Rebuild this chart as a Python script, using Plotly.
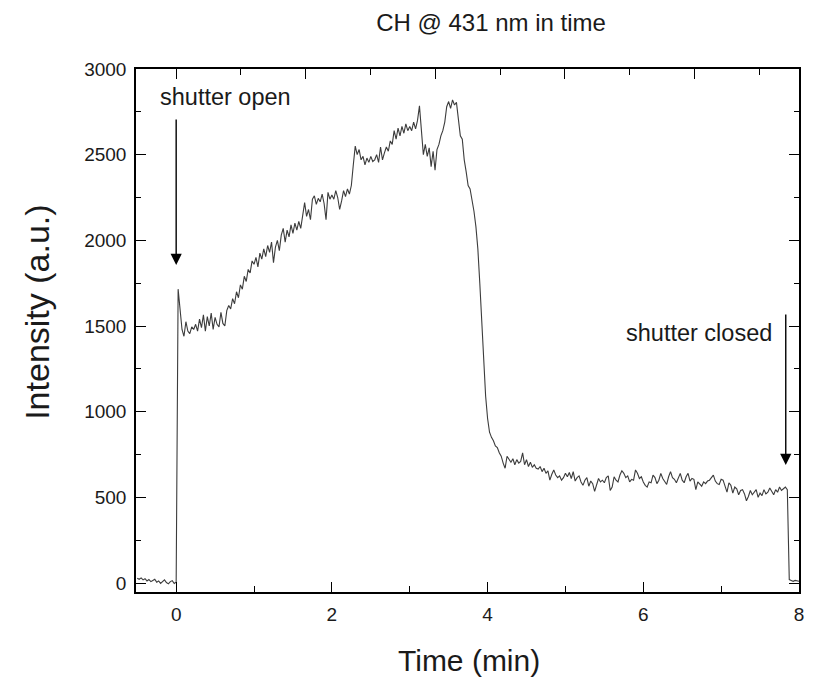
import numpy as np
import plotly.graph_objects as go

# Sampling grid (minutes), 0.025 min steps from -0.5 to 8.0
t_start, t_step, t_end = -0.5, 0.025, 8.0
time_min = np.round(np.arange(t_start, t_end + t_step / 2, t_step), 3)

# Intensity readings (a.u.) per chunk
i_pre = [28, 22, 30, 18, 25, 12, 20, 8, 15, 22, 5, 12, -2, 10, 18, 3, -5, 8, 14, -3, 5]  # -0.5 .. 0.0
i_0_1 = [1715, 1600, 1480, 1440, 1525, 1470, 1455, 1495, 1480, 1510,
         1470, 1540, 1490, 1565, 1470, 1555, 1500, 1575, 1480, 1550,
         1510, 1495, 1580, 1515, 1500, 1590, 1620, 1600, 1660, 1630,
         1700, 1665, 1740, 1715, 1790, 1760, 1830, 1810, 1880, 1860]
i_1_2 = [1900, 1845, 1925, 1890, 1950, 1905, 1970, 1930, 1990, 1870,
         1960, 2000, 1940, 2030, 2070, 1990, 2060, 2020, 2090, 2040,
         2100, 2060, 2110, 2070, 2150, 2220, 2140, 2180, 2120, 2240,
         2260, 2210, 2245, 2225, 2270, 2215, 2120, 2280, 2240, 2265]
i_2_3 = [2240, 2290, 2250, 2180, 2230, 2290, 2255, 2300, 2270, 2320,
         2440, 2550, 2500, 2530, 2470, 2490, 2440, 2480, 2455, 2490,
         2460, 2470, 2500, 2455, 2545, 2470, 2510, 2545, 2520, 2580,
         2560, 2640, 2590, 2655, 2610, 2665, 2625, 2680, 2640, 2665]
i_3_4 = [2640, 2690, 2650, 2700, 2785, 2620, 2500, 2560, 2490, 2540,
         2430, 2520, 2410, 2530, 2560, 2610, 2640, 2690, 2780, 2810,
         2770, 2820, 2790, 2805, 2720, 2610, 2590, 2470, 2400, 2320,
         2300, 2240, 2170, 2080, 1950, 1750, 1530, 1290, 1090, 960]
i_4_5 = [880, 850, 830, 800, 790, 760, 740, 700, 670, 740,
         720, 705, 725, 690, 720, 700, 710, 760, 690, 720,
         680, 705, 675, 690, 670, 665, 680, 650, 670, 640,
         655, 600, 635, 660, 630, 615, 625, 600, 615, 640]
i_5_6 = [620, 645, 610, 650, 595, 615, 625, 590, 570, 600,
         615, 565, 595, 580, 535, 570, 610, 590, 600, 585,
         615, 625, 540, 560, 620, 600, 590, 630, 655, 640,
         615, 625, 590, 605, 600, 660, 640, 610, 620, 590]
i_6_7 = [570, 560, 590, 585, 630, 615, 580, 600, 640, 610,
         590, 575, 620, 650, 615, 605, 585, 610, 640, 600,
         585, 620, 640, 595, 610, 605, 545, 590, 575, 565,
         590, 580, 595, 600, 615, 630, 595, 580, 575, 605]
i_7_8 = [600, 560, 530, 585, 570, 525, 560, 550, 515, 540,
         545, 520, 480, 505, 540, 515, 530, 545, 500, 525,
         510, 545, 520, 530, 555, 535, 515, 545, 530, 560,
         540, 550, 560, 545, 20, 15, 10, 15, 12, 10]

intensity = i_pre + i_0_1 + i_1_2 + i_2_3 + i_3_4 + i_4_5 + i_5_6 + i_6_7 + i_7_8

# Axis ranges / ticks
x_range = [-0.516, 8.0]
y_range = [-52.5, 3000]
top_major_step = 1.664
top_minor_step = 0.832

title_text = "CH @ 431 nm in time"
x_title = "Time (min)"
y_title = "Intensity (a.u.)"
open_label = "shutter open"
closed_label = "shutter closed"
open_arrow = dict(x=0.0, tail=2714, head=1856)
closed_arrow = dict(x=7.83, tail=1576, head=689)

FONT = "Liberation Sans, Arial, sans-serif"
TXT = "#1a1a1a"

fig = go.Figure()
fig.add_trace(go.Scatter(
    x=time_min, y=intensity, mode="lines",
    line=dict(color="#3c3c3c", width=1.1),
    showlegend=False, hoverinfo="x+y",
))
# invisible helper so the top axis gets drawn
fig.add_trace(go.Scatter(
    x=[time_min[0]], y=[intensity[0]], xaxis="x2", mode="markers",
    marker=dict(opacity=0), showlegend=False, hoverinfo="skip",
))

axis_common = dict(
    showgrid=False, zeroline=False, showline=True, linecolor="black",
    linewidth=1.5, ticks="inside", ticklen=10, tickwidth=1.3,
    tickcolor="black", tickfont=dict(family=FONT, size=19, color=TXT),
)

fig.update_layout(
    width=816, height=679,
    margin=dict(l=136, r=11.5, t=69, b=87),
    paper_bgcolor="white", plot_bgcolor="white",
    title=dict(text=title_text, x=0.5355, xref="paper", xanchor="center",
               y=1 - 23 / 679, yref="container", yanchor="middle",
               font=dict(family=FONT, size=24, color=TXT)),
    xaxis=dict(range=x_range, tick0=0, dtick=2, mirror=True,
               minor=dict(ticks="inside", ticklen=6, tickwidth=1.3,
                          tickcolor="black", dtick=1),
               ticklabelstandoff=4, **axis_common),
    xaxis2=dict(range=x_range, overlaying="x", side="top", showline=False,
                showgrid=False, zeroline=False, showticklabels=False,
                ticks="inside", ticklen=10, tickwidth=1.3, tickcolor="black",
                tick0=0, dtick=top_major_step,
                minor=dict(ticks="inside", ticklen=6, tickwidth=1.3,
                           tickcolor="black", tick0=0, dtick=top_minor_step)),
    yaxis=dict(range=y_range, tick0=0, dtick=500, mirror="ticks",
               minor=dict(ticks="inside", ticklen=5, tickwidth=1.3,
                          tickcolor="black", dtick=250),
               ticklabelstandoff=4, **axis_common),
)

fig.add_annotation(text=x_title, xref="paper", yref="paper",
                   x=0.502, y=(592 - 660) / 523, xanchor="center", yanchor="middle",
                   showarrow=False, font=dict(family=FONT, size=30, color=TXT))
fig.add_annotation(text=y_title, xref="paper", yref="paper",
                   x=(36 - 136) / 668.5, y=(592 - 312) / 523, textangle=-90,
                   xanchor="center", yanchor="middle",
                   showarrow=False, font=dict(family=FONT, size=34, color=TXT))

fig.add_annotation(text=open_label, xref="paper", yref="paper",
                   x=(158 - 136) / 668.5, y=(592 - 97) / 523,
                   xanchor="left", yanchor="middle", showarrow=False,
                   font=dict(family=FONT, size=23.5, color=TXT))
fig.add_annotation(text=closed_label, xref="paper", yref="paper",
                   x=(703.5 - 136) / 668.5, y=(592 - 333) / 523,
                   xanchor="center", yanchor="middle", showarrow=False,
                   font=dict(family=FONT, size=23.5, color=TXT))

for arr in (open_arrow, closed_arrow):
    fig.add_annotation(x=arr["x"], y=arr["head"], ax=arr["x"], ay=arr["tail"],
                       xref="x", yref="y", axref="x", ayref="y", text="",
                       showarrow=True, arrowhead=2, arrowsize=1.6,
                       arrowwidth=1.4, arrowcolor="black")

fig.write_html("out.html",
               config={"displayModeBar": False},
               post_script="document.body.style.margin='0px';"
                           "document.body.style.overflow='hidden';")
